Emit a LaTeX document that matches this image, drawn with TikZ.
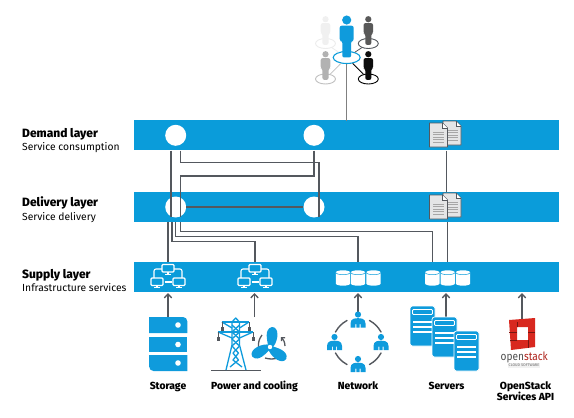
\documentclass[tikz,border=0pt]{standalone}
\usepackage{fontspec}
\setmainfont{Fira Sans}[BoldFont={Fira Sans ExtraBold}]
\usetikzlibrary{arrows.meta,calc,shapes.geometric}
\definecolor{hpblue}{HTML}{0A9CDA}
\definecolor{iconblue}{HTML}{0F9BDC}
\definecolor{wire}{HTML}{54585E}
\definecolor{pagefill}{HTML}{E4E5E6}
\definecolor{osred}{HTML}{D8281F}
\tikzset{
  x=1pt,y=-1pt,
  bar/.style={fill=hpblue,draw=none,minimum width=425pt,minimum height=30pt,inner sep=0pt,anchor=south west},
  hole/.style={circle,fill=white,draw=none,minimum size=21pt,inner sep=0pt},
  wireline/.style={draw=wire,line width=1.1pt},
  uparrow/.style={draw=wire,line width=1.4pt,-{Straight Barb[length=4pt,width=7.5pt,line width=1.3pt]}},
  ring/.style={ellipse,draw,fill=white,inner sep=0pt,minimum width=20pt,minimum height=10pt,line width=0.9pt},
  title/.style={anchor=base west,font=\bfseries\fontsize{12}{12}\selectfont,inner sep=0pt,text=black},
  sub/.style={anchor=base west,font=\fontsize{10.3}{10.3}\selectfont,inner sep=0pt,text=black},
  captext/.style={anchor=base,font=\bfseries\fontsize{10.3}{10.3}\selectfont,inner sep=0pt,text=black},
  spot/.style={inner sep=0pt,minimum size=0pt},
  person/.pic={
    \fill[#1] (0,-5.5) circle[radius=3.6pt];
    \fill[#1,rounded corners=2pt] (-5.5,-1) -- (5.5,-1) -- (5.5,11) -- (3.5,11) -- (3.5,24) -- (-3.5,24) -- (-3.5,11) -- (-5.5,11) -- cycle;
  },
  doc/.pic={
    \draw[draw=wire,fill=pagefill,line width=0.9pt,line join=round] (0,0) -- (13,0) -- (18,5) -- (18,24) -- (0,24) -- cycle;
    \draw[draw=wire,fill=white,line width=0.6pt] (13,0) -- (13,5) -- (18,5);
    \foreach \yy in {9,11.5,14,16.5,19} \draw[gray!70,line width=0.7pt] (3.5,\yy) -- (14.5,\yy);
  },
  can/.pic={
    \fill[white] (-7.2,-5) arc[start angle=180,end angle=0,x radius=7.2pt,y radius=2.2pt] -- (7.2,6) arc[start angle=0,end angle=-180,x radius=7.2pt,y radius=2.2pt] -- cycle;
    \draw[hpblue,line width=0.5pt] (-7.2,-5) arc[start angle=180,end angle=360,x radius=7.2pt,y radius=2.2pt];
  },
  screen/.pic={
    \draw[white,line width=1.2pt,fill=hpblue,rounded corners=1pt] (-6,-4) rectangle (6,3.5);
    \fill[white] (-3.2,5) rectangle (3.2,6.2);
    \fill[white] (-1.1,3.5) rectangle (1.1,5.5);
  },
  lan/.pic={
    \pic at (0,0.5) {screen};
    \pic at (-11,14) {screen};
    \pic at (11,14) {screen};
    \draw[white,line width=1.1pt,rounded corners=2pt] (-6,1) -- (-14,1) -- (-14,10);
    \draw[white,line width=1.1pt,rounded corners=2pt] (6,1) -- (14,1) -- (14,10);
    \draw[white,line width=1.1pt] (-3.5,14) -- (3.5,14);
  },
  netman/.pic={
    \fill[iconblue] (0,-6) circle[radius=3.1pt];
    \fill[iconblue] (-7.5,7) -- (-7.5,3) .. controls (-7.5,-2) and (-3,-2.3) .. (0,-2.3) .. controls (3,-2.3) and (7.5,-2) .. (7.5,3) -- (7.5,7) -- (2.6,7) -- (2.6,3.5) -- (1.6,3.5) -- (1.6,7) -- (-1.6,7) -- (-1.6,3.5) -- (-2.6,3.5) -- (-2.6,7) -- cycle;
  },
  serverpage/.pic={
    \fill[iconblue,rounded corners=2.5pt] (0,0) rectangle (25,40);
    \draw[white,line width=0.7pt,rounded corners=2.5pt] (0,0) rectangle (25,40);
    \draw[white,line width=0.9pt,rounded corners=1pt] (2.5,3.5) rectangle (22.5,8.5);
    \foreach \yy in {16,21,26} \draw[white,line width=1.1pt] (3,\yy) -- (22,\yy);
  },
  blade/.pic={
    \fill[iconblue] (-1.5,0) .. controls (-3,-7) and (-6,-18) .. (2,-20) .. controls (9,-20) and (9,-8) .. (3.5,-0.5) -- cycle;
  },
}
\begin{document}
\begin{tikzpicture}
\useasboundingbox (0,0) rectangle (574,418);

% layer bars
\node[bar] (demand) at (134,150.5) {};
\node[bar] (delivery) at (134,222) {};
\node[bar] (supply) at (134,292) {};
\node[hole] (dc1) at (175.7,135.3) {};
\node[hole] (dc2) at (314,135.3) {};
\node[hole] (lc1) at (175.7,207) {};
\node[hole] (lc2) at (314,207) {};

% named wire ends
\foreach \n/\x/\y in {d1a/171/150.5,d1b/180.3/150.5,d2a/314/150.5,ua/171/217,ub/180.3/217,uc/319/217,
  s1/168/222,s2/172/222,s3/175.7/222,s4/180.3/222,t1/168/262,t2/255/262,t3/358/262,t4/432.3/262,
  e1/446.7/150.5,e2/446.7/192,e3/447.7/222,e4/447.7/262,top/346.7/120.5,
  a1/168/293,a2/254.5/293,a3/358/293,a4/446/293,a5/522/293,
  b1/168/318,b2/254.5/317,b3/358/312,b4/446/317,b5/522/319}
  {\coordinate (\n) at (\x,\y);}
\coordinate (k1) at (0,162.3);
\coordinate (k2) at (0,176);
\coordinate (k3) at (0,241.5);
\coordinate (k4) at (0,236.5);
\coordinate (k5) at (0,231.7);

% wires
\draw[wireline] (d1a) -- (ua);
\draw[wireline] (d1b) |- (k1 -| uc) -- (uc);
\draw[wireline] (d2a) |- (k2 -| ub) -- (ub);
\draw[wireline,line width=1.3pt] (lc1.east) -- (lc2.west);
\draw[wireline] (s1) -- (t1);
\draw[wireline] (s2) |- (k3 -| t2) -- (t2);
\draw[wireline] (s3) |- (k4 -| t3) -- (t3);
\draw[wireline] (s4) |- (k5 -| t4) -- (t4);

% documents
\pic at (443,121) {doc};
\pic at (429.5,123) {doc};
\pic at (443,193) {doc};
\pic at (429.5,195) {doc};
\draw[wireline] (e1) -- (e2);
\draw[wireline] (e3) -- (e4);

% supply icons
\pic at (168,268) {lan};
\pic at (255,268) {lan};
\foreach \x in {343,358,373.5,432.3,447.7,463} \pic at (\x,277.5) {can};

% people
\node[ring,minimum width=27pt,minimum height=12pt,draw=hpblue,line width=1.1pt] (pm) at (346.7,57.5) {};
\node[ring,draw=gray!15] (p1) at (325.5,43.5) {};
\node[ring,draw=wire] (p2) at (368.3,43.5) {};
\node[ring,draw=gray!50] (p3) at (325.5,79) {};
\node[ring,draw=black] (p4) at (368.3,79) {};
\draw[gray!15,line width=0.8pt] (pm) -- (p1);
\draw[wire,line width=0.8pt] (pm) -- (p2);
\draw[gray!50,line width=0.8pt] (pm) -- (p3);
\draw[black,line width=0.8pt] (pm) -- (p4);
\pic[scale=0.87] at (325.5,24) {person=gray!12};
\pic[scale=0.87] at (368.3,24) {person=black!65};
\pic[scale=0.87] at (325.5,59) {person=gray!60};
\pic[scale=0.87] at (368.3,59) {person=black!95};
\pic[scale=1.27] at (346.7,27) {person=iconblue};
\node[spot] (pb) at (346.7,64) {};
\draw[wireline,draw=gray,line width=1.2pt] (pb) -- (top);

% arrows
\draw[uparrow] (b1) -- (a1);
\draw[uparrow] (b2) -- (a2);
\draw[uparrow] (b3) -- (a3);
\draw[uparrow] (b4) -- (a4);
\draw[uparrow] (b5) -- (a5);

% storage
\fill[iconblue] (149,317) -- (183,317) arc[start angle=90,end angle=0,radius=4.3pt] -- (187.3,333) -- (149,333) -- cycle;
\fill[white] (178,325) circle[radius=2.8pt];
\fill[iconblue] (149,337) rectangle (187.3,352);
\fill[white] (178,344.5) circle[radius=2.8pt];
\fill[iconblue] (149,355) -- (187.3,355) -- (187.3,371) -- (153.5,371) arc[start angle=-90,end angle=-180,radius=4.3pt] -- cycle;
\fill[white] (178,363) circle[radius=2.8pt];

% pylon
\draw[wire,line width=1.5pt] (211,370.7) -- (261,370.7);
\begin{scope}[iconblue,line width=1.3pt,line join=round]
\draw (226,370) -- (232,345) -- (232,322) -- (235.7,318) -- (239.5,322) -- (239.5,345) -- (246,370);
\draw (222,322) -- (249,322);
\draw (218,332) -- (253,332);
\draw (222,322) -- (232,328) (249,322) -- (239.5,328);
\draw (218,332) -- (232,338) (253,332) -- (239.5,338);
\draw (232,325) -- (239.5,332) -- (232,339) -- (239.5,346) -- (233,353) -- (238.5,360) -- (230,367);
\draw (239.5,325) -- (232,332) -- (239.5,339) -- (232,346) -- (238.5,353) -- (233,360) -- (242,367);
\end{scope}
\foreach \x/\y/\z in {222/322/331,249/322/331,218/332/341,253/332/341}{
  \draw[wire,line width=1pt] (\x,\y) -- (\x,\z);
  \fill[wire] (\x-1.5,\z-4) rectangle (\x+1.5,\z);
}
% fan
\draw[wire,line width=1.3pt] (262,335) to[bend right=20] (258.5,347);
\draw[wire,line width=1.3pt] (265,358) to[bend right=15] (278,358);
\draw[wire,line width=1.3pt,-{Straight Barb[length=2.5pt,width=5pt]}] (285,346) to[bend right=20] (281,337);
\pic at (270,347) {blade};
\pic[rotate=125] at (270,347) {blade};
\pic[rotate=240] at (270,347) {blade};
\fill[white] (270,347) circle[radius=2.2pt];

% network
\pic at (358,320.5) {netman};
\pic at (334.5,343) {netman};
\pic at (381,343) {netman};
\pic at (358,365) {netman};
\begin{scope}[wire,line width=1.4pt,line cap=round]
\draw (347,320.5) to[bend right=15] (335.5,332);
\draw (369.5,320.5) to[bend left=15] (381,332);
\draw (335.5,353) to[bend right=15] (347,364.5);
\draw (381,353) to[bend left=15] (369.5,364.5);
\end{scope}

% servers
\pic at (410,306) {serverpage};
\pic at (432,317) {serverpage};
\pic at (454,331) {serverpage};

% openstack
\fill[osred,even odd rule] (509,320) -- (535,318) -- (535,347) -- (511,350) -- cycle (517,327) -- (517,340) -- (528,340) -- (528,327) -- cycle;
\draw[black!45!osred,line width=0.35pt] (509,332) -- (517,332) (528,332) -- (535,332) (517,322) -- (517,327) (528,340) -- (528,348) (510,340) -- (517,340);
\node[anchor=base west,inner sep=0pt,font=\fontsize{11.5}{11.5}\selectfont,text=black!70] (ostext) at (500.5,360) {\scalebox{.88}[1]{open\textcolor{osred!80!black}{stack}}};
\node[anchor=center,inner sep=1pt,fill=gray!10,font=\fontsize{3.8}{4}\selectfont,text=black!60] (ossub) at (524,365.5) {CLOUD SOFTWARE};

% texts
\node[title] (t1a) at (22,137.5) {Demand layer};
\node[sub] (t1b) at (22,150.5) {Service consumption};
\node[title] (t2a) at (22,206.5) {Delivery layer};
\node[sub] (t2b) at (22,220) {Service delivery};
\node[title] (t3a) at (22,278) {Supply layer};
\node[sub] (t3b) at (22,291.5) {Infrastructure services};
\node[captext] (c1) at (168,389) {Storage};
\node[captext] (c2) at (254.5,389) {Power and cooling};
\node[captext] (c3) at (358,389) {Network};
\node[captext] (c4) at (446.5,389) {Servers};
\node[captext] (c5) at (525.5,389) {OpenStack};
\node[captext] (c6) at (525.5,400.5) {Services API};
\end{tikzpicture}
\end{document}
